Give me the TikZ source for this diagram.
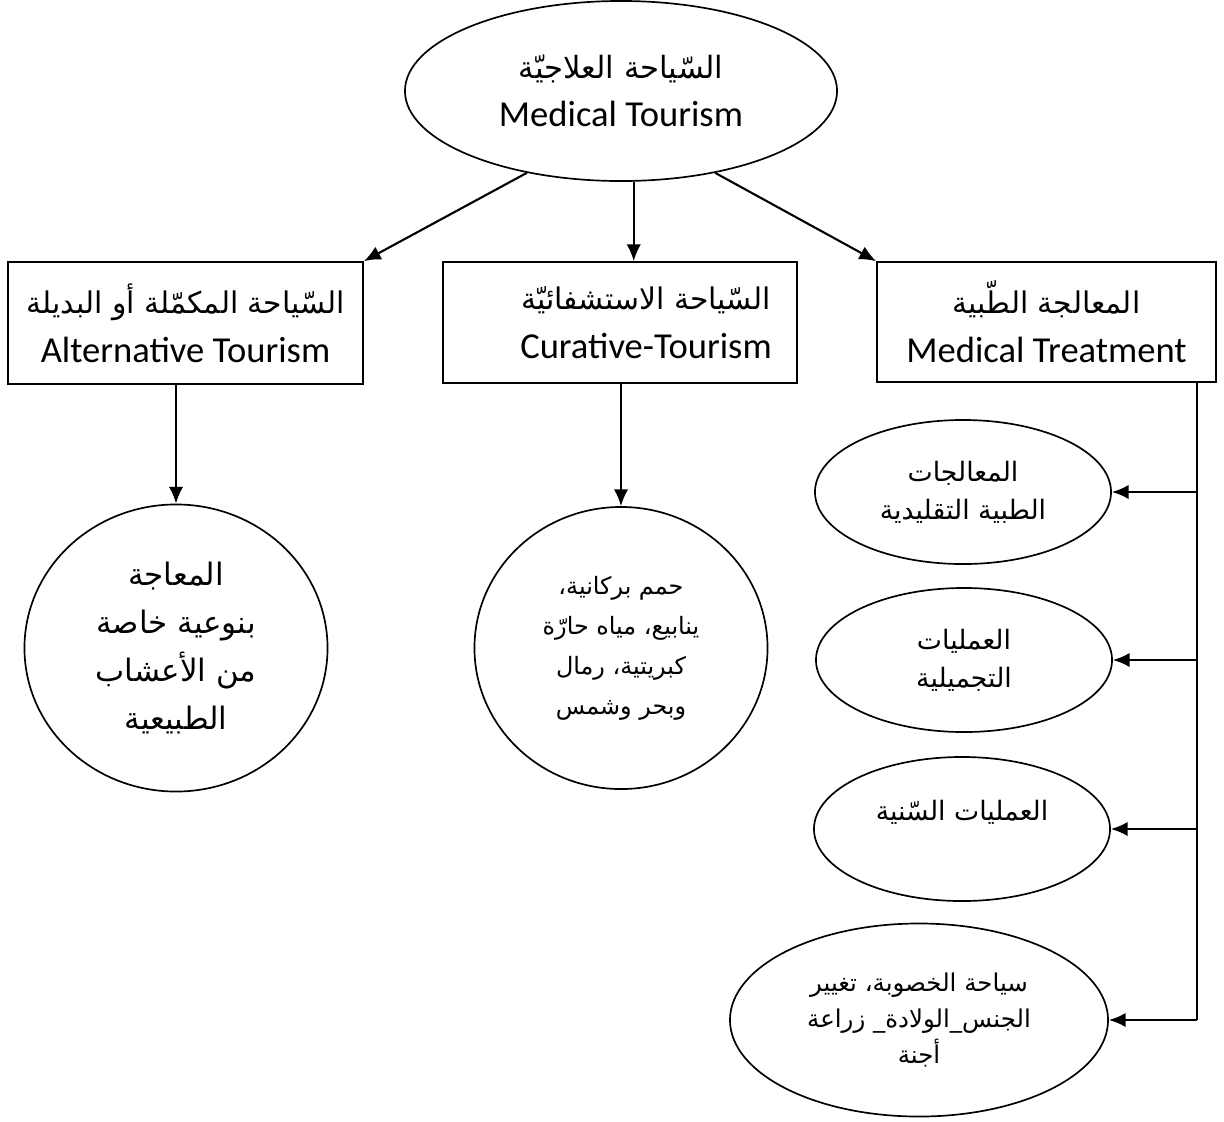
\documentclass[tikz,border=0pt]{standalone}
\usepackage{fontspec}
\setmainfont{Carlito}
\newfontfamily\arabicfont[Script=Arabic]{DejaVu Sans}
\TeXXeTstate=1
\usetikzlibrary{arrows.meta,shapes.geometric}
\def\arpt{19}
\newcommand{\artext}[1]{{\arabicfont\fontsize{\arpt}{\arpt}\selectfont\beginR #1\endR}}
\tikzset{
 oval/.style={draw,ellipse,line width=1.2pt,inner sep=0pt,align=center,font=\fontsize{26}{33}\selectfont},
 panel/.style={draw,rectangle,line width=1.2pt,inner sep=0pt,align=center,font=\fontsize{26}{33}\selectfont},
 arr/.style={-{Latex[length=4.2mm,width=3.6mm]},line width=1.5pt},
 link/.style={line width=1.5pt}
}

\begin{document}
\begin{tikzpicture}[x=0.025cm,y=-0.025cm]
\useasboundingbox (0,0) rectangle (1224,1121);
% root
\node[oval,minimum width=10.8cm,minimum height=4.5cm,font=\fontsize{26}{34}\selectfont\def\arpt{21.8}] (top) at (621,91)
 {\artext{السّياحة العلاجيّة}\\Medical Tourism};
% three kinds
\tikzset{kind/.style={panel,minimum height=3.05cm,font=\fontsize{26}{35}\selectfont\def\arpt{21.2}}}
\node[kind,minimum width=8.875cm] (lbox) at (185.5,323)
 {\artext{السّياحة المكمّلة أو البديلة}\\Alternative Tourism};
\node[kind,minimum width=8.85cm,minimum height=3.025cm] (mbox) at (620,322.5)
 {\hspace*{1.3cm}\artext{السّياحة الاستشفائيّة}\\\hspace*{1.3cm}Curative-Tourism};
\node[kind,minimum width=8.475cm,minimum height=3cm] (rbox) at (1046.5,322)
 {\artext{المعالجة الطّبية}\\Medical Treatment};
\draw[arr] (top.221) -- (lbox.north east);
\draw[arr] (top.278) -- (top.278 |- mbox.north);
\draw[arr] (top.319) -- (rbox.north west);
% circles
\node[oval,minimum width=7.575cm,minimum height=7.175cm,font=\fontsize{26}{34}\selectfont\def\arpt{22}] (lcirc) at (176,648)
 {\artext{المعاجة}\\\artext{بنوعية خاصة}\\\artext{من الأعشاب}\\\artext{الطبيعية}};
\node[oval,minimum width=7.325cm,minimum height=7.05cm,font=\fontsize{26}{28.5}\selectfont\def\arpt{17}] (mcirc) at (621,648)
 {\artext{حمم بركانية،}\\\artext{ينابيع، مياه حارّة}\\\artext{كبريتية، رمال}\\\artext{وبحر وشمس}};
\draw[arr] (lcirc.north |- lbox.south) -- (lcirc.north);
\draw[arr] (mcirc.north |- mbox.south) -- (mcirc.north);
% treatments
\tikzset{small/.style={oval,minimum width=7.4cm,minimum height=3.6cm,font=\fontsize{26}{27}\selectfont\def\arpt{19}}}
\node[small] (e1) at (963,492) {\artext{المعالجات}\\\artext{الطبية التقليدية}};
\node[small] (e2) at (964,660) {\artext{العمليات}\\\artext{التجميلية}};
\node[small] (e3) at (962,829) {\artext{العمليات السّنية}\\\mbox{}};
\node[small,minimum width=9.45cm,minimum height=4.825cm,font=\fontsize{26}{25.5}\selectfont\def\arpt{17.4}] (e4) at (919,1020)
 {\artext{سياحة الخصوبة، تغيير}\\\artext{الجنس\_الولادة\_ زراعة}\\\artext{أجنة}};
\coordinate (spine) at (1197,0);
\draw[link] (spine |- rbox.south) -- (spine |- e4.east);
\foreach \e in {e1,e2,e3,e4}
 \draw[arr] (spine |- \e.east) -- (\e.east);
\end{tikzpicture}
\end{document}
